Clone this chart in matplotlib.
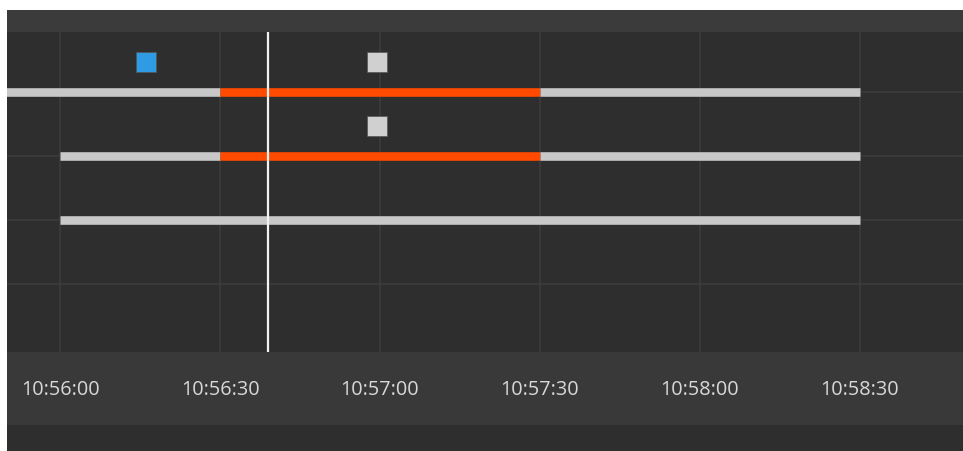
import datetime as dt
import matplotlib
matplotlib.use("Agg")
import matplotlib.pyplot as plt
import matplotlib.dates as mdates
from matplotlib.patches import Rectangle

day = dt.date(2024, 1, 1)
def t(s):
    return dt.datetime.combine(day, dt.time.fromisoformat(s))

# rows from top to bottom
rows = [0, 1, 2]
# (row, start, end, state)
segments = [
    (0, "10:55:40", "10:56:30", "idle"),
    (0, "10:56:30", "10:57:30", "alarm"),
    (0, "10:57:30", "10:58:30", "idle"),
    (1, "10:56:00", "10:56:30", "idle"),
    (1, "10:56:30", "10:57:30", "alarm"),
    (1, "10:57:30", "10:58:30", "idle"),
    (2, "10:56:00", "10:58:30", "idle"),
]
# (row, time, kind)
events = [
    (0, "10:56:16", "info"),
    (0, "10:56:59.5", "note"),
    (1, "10:56:59.5", "note"),
]
cursor_time = "10:56:39"
x_start, x_end = "10:55:50", "10:58:49.4"
tick_times = ["10:56:00", "10:56:30", "10:57:00", "10:57:30", "10:58:00", "10:58:30"]

state_colors = {"idle": "#c8c8c8", "alarm": "#ff4a00"}
event_colors = {"info": "#2f9be3", "note": "#d0d0d0"}

W, H = 963, 451
fig = plt.figure(figsize=(W / 100, H / 100), dpi=100, facecolor="white")

def band(y0, y1, color):
    fig.patches.append(Rectangle((7 / W, 1 - y1 / H), 1 - 7 / W, (y1 - y0) / H,
                                 transform=fig.transFigure, facecolor=color,
                                 edgecolor="none", zorder=-5))

band(10, 32, "#3b3b3b")
band(352, 425, "#393939")
band(425, 451, "#2e2e2e")

ax = fig.add_axes([7 / W, 1 - 352 / H, 1 - 7 / W, 320 / H])
ax.set_facecolor("#2e2e2e")
for s in ax.spines.values():
    s.set_visible(False)

for r, a, b, state in segments:
    ax.hlines(r, t(a), t(b), colors=state_colors[state], lw=6.2,
              capstyle="butt", zorder=3)

for r, when, kind in events:
    ax.plot(t(when), r - 30 / 64, marker="s", ms=14.5, color=event_colors[kind],
            mec="#555555", mew=0.5, zorder=4)

ax.axvline(t(cursor_time), color="#f2f2f2", lw=1.6, zorder=5)

ax.set_xlim(t(x_start), t(x_end))
ax.set_ylim(4.0625, -0.9375)
ax.set_yticks(range(4))
ax.set_yticklabels([])
ax.tick_params(axis="y", length=0)
ax.set_xticks([t(s) for s in tick_times])
ax.xaxis.set_major_formatter(mdates.DateFormatter("%H:%M:%S"))
ax.tick_params(axis="x", length=0, pad=20, labelsize=14.3, labelcolor="#d8d8d8")
for lab in ax.get_xticklabels():
    lab.set_fontfamily("Open Sans")
ax.grid(True, color="#3c3c3c", lw=1.2, zorder=1)
ax.set_axisbelow(True)

fig.savefig("out.png", dpi=100, facecolor="white")
